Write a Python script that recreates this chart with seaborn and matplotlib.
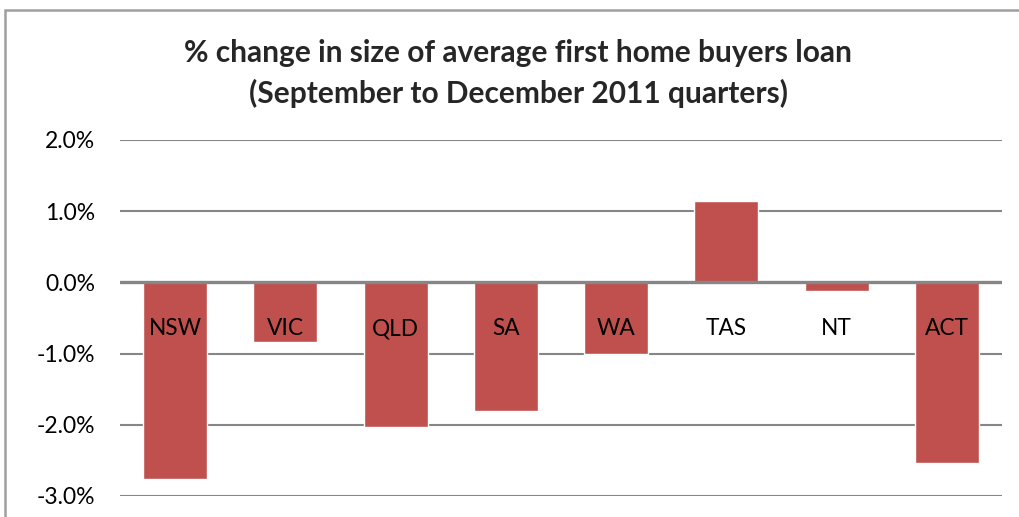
import matplotlib
matplotlib.use("Agg")
import matplotlib.pyplot as plt
import seaborn as sns
import pandas as pd
from matplotlib.patches import Rectangle
from matplotlib.ticker import FuncFormatter

states = ["NSW", "VIC", "QLD", "SA", "WA", "TAS", "NT", "ACT"]
pct_change = [-2.76, -0.84, -2.03, -1.81, -1.01, 1.14, -0.12, -2.54]
y_ticks = [-3.0, -2.0, -1.0, 0.0, 1.0, 2.0]
title = "% change in size of average first home buyers loan\n(September to December 2011 quarters)"

sns.set_theme(style="white")
plt.rcParams['font.family'] = ['Lato', 'DejaVu Sans']

df = pd.DataFrame({"state": states, "pct": pct_change})

fig = plt.figure(figsize=(10.2, 5.17), dpi=100)
ax = fig.add_axes([120/1020, 1-496/517, (1002-120)/1020, 356/517])

for t in y_ticks:
    ax.axhline(t, color="#868686", lw=2.4 if t == 0 else 1.5, zorder=0 if t != 0 else 3)

sns.barplot(data=df, x="state", y="pct", color="#C0504D", saturation=1,
            width=0.58, ax=ax, zorder=2)

ax.set_ylim(-3, 2)
ax.set_xlim(-0.5, len(states) - 0.5)
ax.set_yticks(y_ticks)
ax.yaxis.set_major_formatter(FuncFormatter(lambda v, p: f"{v:.1f}%"))
ax.tick_params(axis="y", labelsize=16.5, length=0, pad=18, colors="black")
ax.set_xticks([])
ax.set_xlabel("")
ax.set_ylabel("")
for s in ax.spines.values():
    s.set_visible(False)

for i, name in enumerate(states):
    ax.text(i, -0.65, name, ha="center", va="center", fontsize=16.3, color="black", zorder=4)

fig.text(0.508, 0.858, title, ha="center", va="center", fontsize=21.5,
         fontweight="bold", linespacing=1.5)

fig.patches.append(Rectangle((5/1020, -0.1), 1.2, 1 - 10/517 + 0.1, transform=fig.transFigure,
                             fill=False, edgecolor="#A0A0A0", lw=1.8))

fig.savefig("out.png", dpi=100)
